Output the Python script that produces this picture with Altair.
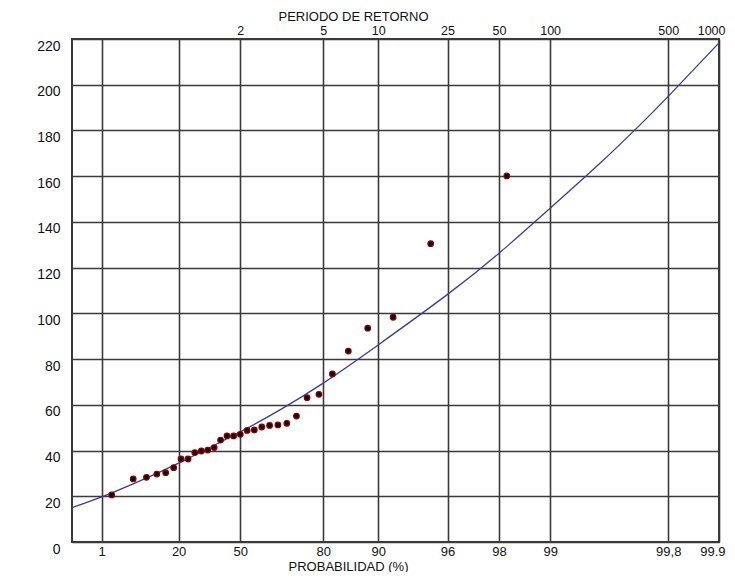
import altair as alt
import numpy as np
import pandas as pd

# Observed values (sorted) and their plotting positions, % non-exceedance
obs_prob = [1.80, 5.01, 8.23, 11.44, 14.65, 17.87, 21.08, 24.29, 27.51, 30.72,
            33.93, 37.15, 40.36, 43.57, 46.79, 50.00, 53.21, 56.43, 59.64, 62.85,
            66.07, 69.28, 72.49, 75.71, 78.92, 82.13, 85.35, 88.56, 91.77, 94.99, 98.20]
obs_value = [20.6, 27.6, 28.3, 29.7, 30.3, 32.5, 36.3, 36.3, 39.1, 39.8,
             40.2, 41.3, 44.6, 46.4, 46.4, 47.1, 48.8, 49.0, 50.3, 51.0,
             51.2, 51.9, 55.1, 63.1, 64.6, 73.5, 83.5, 93.5, 98.3, 130.5, 160.1]

# Fitted distribution curve
fit_prob = [0.1, 1, 5, 20, 50, 67, 80, 90, 96, 98, 99, 99.5, 99.7, 99.8, 99.9]
fit_value = [15.0, 19.7, 25.4, 34.5, 48.2, 57.9, 69.5, 86.2, 108.3, 126.3,
             146.0, 166.1, 181.8, 194.9, 218.3]

# Axis ticks
prob_ticks = [1, 20, 50, 80, 90, 96, 98, 99, 99.8, 99.9]
prob_labels = ["1", "20", "50", "80", "90", "96", "98", "99", "99,8", "99.9"]
period_ticks = [2, 5, 10, 25, 50, 100, 500, 1000]
period_labels = ["2", "5", "10", "25", "50", "100", "500", "1000"]
y_ticks = list(range(0, 221, 20))


def gumbel(p_pct):
    return float(-np.log(-np.log(p_pct / 100.0)))


prob_pos = [gumbel(p) for p in prob_ticks]
period_pos = [gumbel(100.0 * (1 - 1.0 / t)) for t in period_ticks]


def label_expr(vals, labels):
    expr = f"'{labels[-1]}'"
    for i in reversed(range(len(vals) - 1)):
        mid = (vals[i] + vals[i + 1]) / 2
        expr = f"datum.value < {mid:.5f} ? '{labels[i]}' : ({expr})"
    return expr


obs_df = pd.DataFrame({"p": obs_prob, "v": obs_value})
fit_df = pd.DataFrame({"p": fit_prob, "v": fit_value})

xscale = alt.Scale(domain=[gumbel(0.1), gumbel(99.9)], nice=False, zero=False)
yscale = alt.Scale(domain=[0, 220], nice=False)

FONT = "Liberation Sans"
GRID = "#3a3a3a"
TXT = "#111111"

common = dict(gridColor=GRID, gridWidth=1.6, gridOpacity=1,
              labelFont=FONT, titleFont=FONT, labelColor=TXT, titleColor=TXT,
              titleFontWeight="normal", labelFontSize=13, titleFontSize=13,
              ticks=False, domain=False)

yaxis = alt.Axis(values=y_ticks, title=None, grid=True,
                 labelPadding=12, labelOffset=7,
                 **{**common, "labelFontSize": 14})

bottom_axis = alt.Axis(orient="bottom", values=prob_pos,
                       labelExpr=label_expr(prob_pos, prob_labels),
                       title="PROBABILIDAD (%)", grid=True,
                       labelPadding=3, labelFlush=1, labelFlushOffset=6,
                       labelOverlap=False,
                       titleX=276, titleY=24, titleBaseline="middle", titleAlign="center",
                       **common)

top_axis = alt.Axis(orient="top", values=period_pos,
                    labelExpr=label_expr(period_pos, period_labels),
                    title="PERIODO DE RETORNO", grid=False,
                    labelPadding=2, labelFlush=1, labelFlushOffset=6,
                    labelOverlap=False,
                    titleX=281, titleY=-19, titleBaseline="alphabetic", titleAlign="center",
                    **{**common, "labelFontSize": 12.5})

curve = alt.Chart(fit_df).transform_calculate(
    u="-log(-log(datum.p/100))"
).mark_line(color="#3a3aa0", strokeWidth=1.3, interpolate="natural", clip=True).encode(
    x=alt.X("u:Q", scale=xscale, axis=top_axis),
    y=alt.Y("v:Q", scale=yscale, axis=yaxis),
)

points = alt.Chart(obs_df).transform_calculate(
    u="-log(-log(datum.p/100))"
).mark_circle(size=30, color="black", stroke="#8b0000", strokeWidth=1.3, opacity=1).encode(
    x=alt.X("u:Q", scale=xscale, axis=bottom_axis),
    y=alt.Y("v:Q", scale=yscale, axis=yaxis),
)

chart = alt.layer(curve, points).resolve_axis(x="independent").properties(
    width=647, height=503,
    background="white",
    autosize=alt.AutoSizeParams(type="none"),
    padding={"left": 64, "top": 31, "right": 8, "bottom": 30},
).configure_view(
    stroke=GRID, strokeWidth=2
)

chart.save("out.html", embed_options={"renderer": "svg", "actions": False})
